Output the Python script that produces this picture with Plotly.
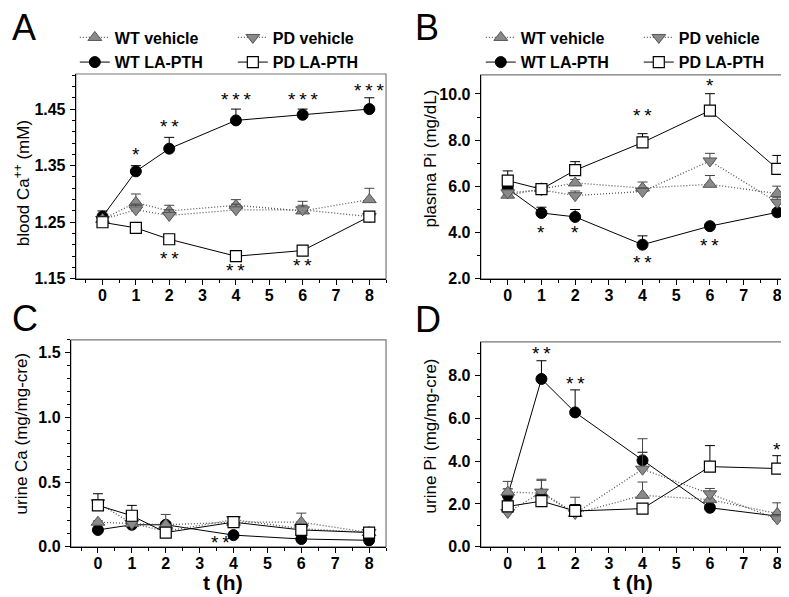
import plotly.graph_objects as go

# ---------------- data ----------------
t = [0, 1, 2, 4, 6, 8]
series_names = ["WT vehicle", "PD vehicle", "WT LA-PTH", "PD LA-PTH"]

# Panel A: blood Ca++ (mM)
a_wt_veh = [1.255, 1.285, 1.270, 1.280, 1.270, 1.290]
a_wt_veh_err = [0.005, 0.015, 0.010, 0.010, 0.010, 0.020]
a_pd_veh = [1.255, 1.272, 1.262, 1.272, 1.272, 1.260]
a_pd_veh_err = [0.005, 0.010, 0.010, 0.010, 0.015, 0.005]
a_wt_la = [1.260, 1.340, 1.380, 1.430, 1.440, 1.450]
a_wt_la_err = [0.010, 0.010, 0.020, 0.020, 0.010, 0.020]
a_pd_la = [1.250, 1.240, 1.220, 1.190, 1.200, 1.260]
a_pd_la_err = [0.005, 0.005, 0.005, 0.005, 0.005, 0.005]

# Panel B: plasma Pi (mg/dL)
b_wt_veh = [5.62, 5.90, 6.15, 5.93, 6.09, 5.69]
b_wt_veh_err = [0.10, 0.10, 0.15, 0.26, 0.38, 0.32]
b_pd_veh = [5.72, 5.85, 5.60, 5.78, 7.10, 5.31]
b_pd_veh_err = [0.10, 0.10, 0.20, 0.15, 0.33, 0.20]
b_wt_la = [5.90, 4.85, 4.68, 3.48, 4.28, 4.88]
b_wt_la_err = [0.15, 0.25, 0.32, 0.38, 0.10, 0.10]
b_pd_la = [6.25, 5.88, 6.70, 7.90, 9.28, 6.76]
b_pd_la_err = [0.42, 0.10, 0.37, 0.38, 0.73, 0.58]

# Panel C: urine Ca (mg/mg-cre)
c_wt_veh = [0.19, 0.18, 0.17, 0.19, 0.19, 0.11]
c_wt_veh_err = [0.01, 0.01, 0.08, 0.02, 0.07, 0.01]
c_pd_veh = [0.34, 0.18, 0.12, 0.21, 0.14, 0.11]
c_pd_veh_err = [0.02, 0.01, 0.01, 0.02, 0.02, 0.01]
c_wt_la = [0.13, 0.17, 0.17, 0.09, 0.06, 0.05]
c_wt_la_err = [0.01, 0.02, 0.02, 0.01, 0.01, 0.01]
c_pd_la = [0.32, 0.24, 0.11, 0.19, 0.13, 0.11]
c_pd_la_err = [0.09, 0.08, 0.02, 0.03, 0.02, 0.01]

# Panel D: urine Pi (mg/mg-cre)
d_wt_veh = [2.55, 2.50, 1.55, 2.40, 2.20, 1.55]
d_wt_veh_err = [0.50, 0.60, 0.76, 0.62, 0.30, 0.50]
d_pd_veh = [1.60, 2.55, 1.55, 3.62, 2.47, 1.30]
d_pd_veh_err = [0.30, 0.60, 0.20, 1.42, 0.25, 0.20]
d_wt_la = [2.40, 7.83, 6.27, 4.03, 1.82, 1.43]
d_wt_la_err = [0.30, 0.85, 1.05, 0.38, 0.10, 0.10]
d_pd_la = [1.88, 2.13, 1.67, 1.78, 3.74, 3.65]
d_pd_la_err = [0.30, 0.30, 0.30, 0.10, 0.98, 0.60]

# significance marks: (panel, t, y, text)
sig_marks = [
    ("A", 1, 1.374, "*"), ("A", 2, 1.422, "**"), ("A", 4, 1.471, "***"),
    ("A", 6, 1.471, "***"), ("A", 8, 1.487, "***"), ("A", 2, 1.190, "**"),
    ("A", 4, 1.169, "**"), ("A", 6, 1.177, "**"),
    ("B", 6, 10.45, "*"), ("B", 4, 9.15, "**"), ("B", 1, 4.09, "*"),
    ("B", 2, 4.09, "*"), ("B", 4, 2.78, "**"), ("B", 6, 3.52, "**"),
    ("C", 3.63, 0.05, "**"),
    ("D", 1, 9.09, "**"), ("D", 2, 7.72, "**"), ("D", 8, 4.64, "*"),
]

y_titles = {"A": "blood Ca<sup>++</sup> (mM)", "B": "plasma Pi (mg/dL)",
            "C": "urine Ca (mg/mg-cre)", "D": "urine Pi (mg/mg-cre)"}
x_title = "t (h)"

# ---------------- figure ----------------
W, H = 789, 597
FONT = "Liberation Sans, Arial, Helvetica, sans-serif"
fig = go.Figure()

def px_x(v):
    return v / W

def px_y(v):
    return (H - v) / H

panels = {
    "A": ("x", "y", (68, 379), (67, 275), [-0.8, 8.5], [1.15, 1.512], 0.1, 0.02, ".2f", 1.15),
    "B": ("x2", "y2", (474, 778), (68, 275), [-0.8, 8.2], [2.0, 10.82], 2, 1, ".1f", 2.0),
    "C": ("x3", "y3", (63, 379), (337, 547), [-0.8, 8.5], [0, 1.6], 0.5, 0.1, ".1f", 0),
    "D": ("x4", "y4", (474, 778), (339, 547), [-0.8, 8.2], [0, 9.56], 2, 1, ".1f", 0),
}

data = {
    "A": [(a_wt_veh, a_wt_veh_err), (a_pd_veh, a_pd_veh_err), (a_wt_la, a_wt_la_err), (a_pd_la, a_pd_la_err)],
    "B": [(b_wt_veh, b_wt_veh_err), (b_pd_veh, b_pd_veh_err), (b_wt_la, b_wt_la_err), (b_pd_la, b_pd_la_err)],
    "C": [(c_wt_veh, c_wt_veh_err), (c_pd_veh, c_pd_veh_err), (c_wt_la, c_wt_la_err), (c_pd_la, c_pd_la_err)],
    "D": [(d_wt_veh, d_wt_veh_err), (d_pd_veh, d_pd_veh_err), (d_wt_la, d_wt_la_err), (d_pd_la, d_pd_la_err)],
}

styles = [
    dict(marker=dict(symbol="triangle-up", size=12, color="#8a8a8a", line=dict(color="#555", width=1)),
         line=dict(color="#555", width=1.3, dash="1px,2px"), err="#444"),
    dict(marker=dict(symbol="triangle-down", size=12, color="#8a8a8a", line=dict(color="#555", width=1)),
         line=dict(color="#555", width=1.3, dash="1px,2px"), err="#444"),
    dict(marker=dict(symbol="circle", size=11, color="black", line=dict(color="black", width=1)),
         line=dict(color="black", width=1), err="black"),
    dict(marker=dict(symbol="square", size=11, color="white", line=dict(color="black", width=1.2)),
         line=dict(color="black", width=1), err="black"),
]
draw_order = [2, 0, 1, 3]
legend_of = {("A", 0): "legend", ("A", 1): "legend", ("A", 2): "legend2", ("A", 3): "legend2",
             ("B", 0): "legend3", ("B", 1): "legend3", ("B", 2): "legend4", ("B", 3): "legend4"}

for p, (xa, ya, xd, yd, xr, yr, dt, mdt, fmt, t0) in panels.items():
    for i in draw_order:
        vals, err = data[p][i]
        st = styles[i]
        show = (p, i) in legend_of
        fig.add_trace(go.Scatter(
            x=t, y=vals, mode="lines+markers", name=series_names[i],
            xaxis=xa, yaxis=ya,
            marker=st["marker"], line=st["line"],
            error_y=dict(type="data", array=err, arrayminus=[0] * len(err), symmetric=False,
                         color=st["err"], thickness=1, width=5),
            showlegend=show, legend=legend_of.get((p, i), "legend"),
        ))

layout = dict(
    width=W, height=H, margin=dict(l=0, r=0, t=0, b=0),
    paper_bgcolor="white", plot_bgcolor="white",
    font=dict(family=FONT, color="black", size=16),
    shapes=[], annotations=[],
)

for p, (xa, ya, xd, yd, xr, yr, dt, mdt, fmt, t0) in panels.items():
    xk = "xaxis" + xa[1:]
    yk = "yaxis" + ya[1:]
    layout[xk] = dict(
        domain=[px_x(xd[0]), px_x(xd[1])], range=xr, anchor=ya,
        tickmode="array", tickvals=[0, 1, 2, 3, 4, 5, 6, 7, 8],
        ticks="outside", ticklen=5, tickwidth=1.2, tickcolor="black",
        minor=dict(dtick=0.5, tick0=0, ticks="outside", ticklen=3, tickwidth=1, tickcolor="black"),
        showline=True, linecolor="black", linewidth=1.2, showgrid=False, zeroline=False,
        tickfont=dict(size=16, weight="bold", family=FONT), ticklabelstandoff=-3,
    )
    layout[yk] = dict(
        domain=[px_y(yd[1]), px_y(yd[0])], range=yr, anchor=xa,
        tickmode="linear", tick0=t0, dtick=dt, tickformat=fmt,
        ticks="outside", ticklen=5, tickwidth=1.2, tickcolor="black",
        minor=dict(dtick=mdt, tick0=t0, ticks="outside", ticklen=3, tickwidth=1, tickcolor="black"),
        showline=True, linecolor="black", linewidth=1.2, showgrid=False, zeroline=False,
        tickfont=dict(size=16, weight="bold", family=FONT), ticklabelstandoff=1,
    )
    layout["shapes"].append(dict(type="rect", xref=xa + " domain", yref=ya + " domain",
                                 x0=0, x1=1, y0=0, y1=1, line=dict(color="#777", width=1.2),
                                 layer="below"))

# axis titles as annotations (positioned like the reference)
for p, (cx, cy) in {"A": (14, 178), "B": (424, 153), "C": (14, 432), "D": (424, 434)}.items():
    layout["annotations"].append(dict(
        x=px_x(cx), y=px_y(cy), xref="paper", yref="paper", text=y_titles[p], showarrow=False,
        textangle=-90, xanchor="center", yanchor="middle",
        font=dict(size=17, family=FONT, color="black")))
for cx in (216, 627):
    layout["annotations"].append(dict(
        x=px_x(cx), y=px_y(583), xref="paper", yref="paper", text=x_title, showarrow=False,
        xanchor="center", yanchor="middle",
        font=dict(size=21, weight="bold", family=FONT, color="black")))

axis_ref = {p: (v[0], v[1]) for p, v in panels.items()}
for p, tx, ty, txt in sig_marks:
    xa, ya = axis_ref[p]
    layout["annotations"].append(dict(
        x=tx, y=ty, xref=xa, yref=ya, text="\u2009".join(txt), showarrow=False,
        font=dict(size=19, family=FONT, color="black"), yshift=-2))

# panel letters
for letter, (lx, ly) in {"A": (2, 20), "B": (406, 20), "C": (2, 315), "D": (406, 316)}.items():
    layout["annotations"].append(dict(
        x=px_x(lx), y=px_y(ly), xref="paper", yref="paper", text=letter, showarrow=False,
        xanchor="left", yanchor="middle", font=dict(size=36, family=FONT, color="black")))

leg_common = dict(orientation="h", xanchor="left", yanchor="middle", bgcolor="rgba(0,0,0,0)",
                  font=dict(size=16, weight="bold", family=FONT), entrywidth=113,
                  itemwidth=30, tracegroupgap=0)
layout["legend"] = dict(x=px_x(67), y=px_y(30), **leg_common)
layout["legend2"] = dict(x=px_x(67), y=px_y(55), **leg_common)
layout["legend3"] = dict(x=px_x(474), y=px_y(30), **leg_common)
layout["legend4"] = dict(x=px_x(474), y=px_y(55), **leg_common)

fig.update_layout(**layout)
fig.write_html("out.html")
